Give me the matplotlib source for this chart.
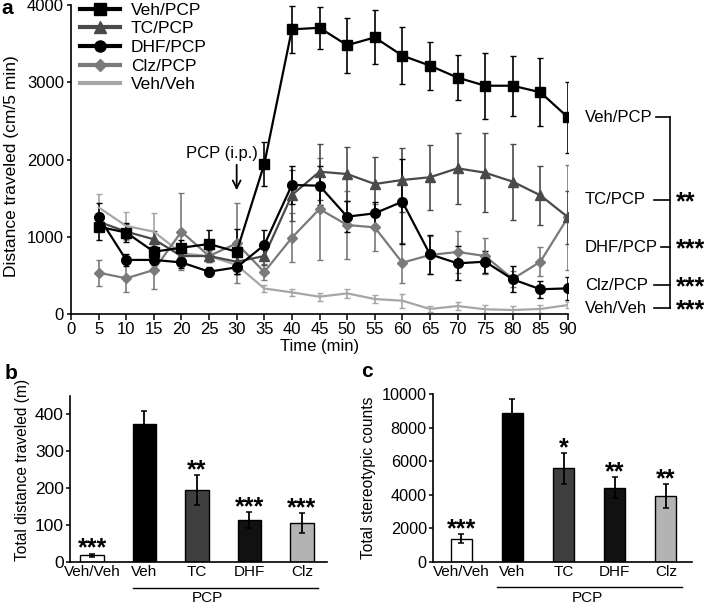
import matplotlib
matplotlib.use("Agg")
import matplotlib.pyplot as plt
from matplotlib.lines import Line2D
import numpy as np

plt.rcParams['font.family'] = ['Liberation Sans', 'DejaVu Sans']

# ---------------- data: panel a ----------------
times = [5, 10, 15, 20, 25, 30, 35, 40, 45, 50, 55, 60, 65, 70, 75, 80, 85, 90]
veh_pcp = [1130, 1055, 806, 858, 906, 806, 1942, 3685, 3705, 3480, 3580, 3345, 3215, 3060, 2955, 2955, 2870, 2545]
veh_pcp_err = [170, 120, 80, 100, 180, 290, 280, 300, 270, 355, 350, 370, 310, 295, 430, 390, 440, 455]
tc_pcp = [1195, 1066, 967, 750, 750, 677, 750, 1540, 1842, 1812, 1683, 1735, 1770, 1886, 1829, 1713, 1536, 1252]
tc_pcp_err = [110, 100, 110, 90, 80, 100, 110, 330, 360, 355, 350, 420, 420, 460, 510, 490, 380, 340]
dhf_pcp = [1260, 700, 700, 668, 548, 604, 893, 1670, 1661, 1260, 1303, 1454, 773, 656, 677, 449, 320, 332]
dhf_pcp_err = [180, 80, 70, 70, 60, 80, 190, 240, 250, 200, 150, 550, 250, 220, 140, 170, 110, 150]
clz_pcp = [535, 462, 570, 1066, 750, 915, 543, 988, 1359, 1152, 1122, 664, 764, 803, 751, 453, 677, 1252]
clz_pcp_err = [170, 180, 240, 500, 80, 520, 100, 320, 660, 445, 300, 260, 240, 270, 230, 100, 190, 680]
veh_veh = [1380, 1140, 1066, 785, 750, 634, 330, 280, 224, 267, 194, 172, 65, 103, 61, 52, 65, 116]
veh_veh_err = [170, 180, 240, 60, 60, 120, 50, 50, 50, 60, 50, 90, 40, 50, 50, 50, 50, 40]

right_labels = ['Veh/PCP', 'TC/PCP', 'DHF/PCP', 'Clz/PCP', 'Veh/Veh']
right_label_y = [2546, 1476, 863, 375, 74]
right_stars = ['', '**', '***', '***', '***']

# ---------------- data: panels b, c ----------------
bar_labels = ['Veh/Veh', 'Veh', 'TC', 'DHF', 'Clz']
dist_vals = [18, 373, 195, 114, 106]
dist_err = [5, 35, 41, 22, 27]
dist_stars = ['***', '', '**', '***', '***']
stereo_vals = [1390, 8850, 5570, 4430, 3940]
stereo_err = [260, 850, 900, 640, 700]
stereo_stars = ['***', '', '*', '**', '**']
bar_colors = ['white', 'black', '#3f3f3f', '#111111', '#b3b3b3']

W, H = 708, 608
fig = plt.figure(figsize=(W / 100, H / 100), dpi=100)


def rect(l, t, r, b):
    return [l / W, 1 - b / H, (r - l) / W, (b - t) / H]


STAR_FONT = dict(family='Liberation Sans', fontweight='bold', fontsize=18)

# ---------------- panel a ----------------
ax = fig.add_axes(rect(71, 5, 568, 314))
series = [
    ('Veh/Veh', veh_veh, veh_veh_err, '#a6a6a6', None, 0),
    ('Clz/PCP', clz_pcp, clz_pcp_err, '#7a7a7a', 'D', 5.5),
    ('TC/PCP', tc_pcp, tc_pcp_err, '#4a4a4a', '^', 7),
    ('DHF/PCP', dhf_pcp, dhf_pcp_err, 'black', 'o', 7),
    ('Veh/PCP', veh_pcp, veh_pcp_err, 'black', 's', 6.5),
]
for name, vals, err, col, mk, ms in series:
    ax.errorbar(times, vals, yerr=err, fmt='none', ecolor=col, elinewidth=1.2,
                capsize=2.2, capthick=1.0, zorder=2)
    ax.plot(times, vals, color=col, lw=1.6, marker=mk, ms=ms, zorder=3)

ax.set_xlim(0, 90)
ax.set_ylim(0, 4000)
ax.set_xticks(range(0, 95, 5))
ax.set_yticks([0, 1000, 2000, 3000, 4000])
ax.tick_params(axis='x', labelsize=12, length=4, width=1.1, direction='out', pad=2)
ax.tick_params(axis='y', labelsize=12, length=3, width=1.1, direction='out', pad=2)
for s in ['top', 'right']:
    ax.spines[s].set_visible(False)
for s in ['left', 'bottom']:
    ax.spines[s].set_linewidth(1.2)
ax.set_xlabel('Time (min)', fontsize=12, labelpad=1)
ax.set_ylabel('Distance traveled (cm/5 min)', fontsize=12.5)
ax.yaxis.set_label_coords(19 / W, 1 - 166 / H, transform=fig.transFigure)

handles = [
    Line2D([], [], color='black', lw=3, marker='s', ms=8),
    Line2D([], [], color='#4a4a4a', lw=3, marker='^', ms=8),
    Line2D([], [], color='black', lw=3, marker='o', ms=8),
    Line2D([], [], color='#7a7a7a', lw=3, marker='D', ms=6.5),
    Line2D([], [], color='#a6a6a6', lw=3),
]
ax.legend(handles, ['Veh/PCP', 'TC/PCP', 'DHF/PCP', 'Clz/PCP', 'Veh/Veh'],
          loc='upper left', bbox_to_anchor=(0.005, 1.03), frameon=False, fontsize=12.5,
          handlelength=2.3, handletextpad=0.6, labelspacing=0.2, borderaxespad=0)

ax.annotate('', xy=(30, 1566), xytext=(30, 1968),
            arrowprops=dict(arrowstyle='->', lw=1.3, color='black', mutation_scale=14))
ax.text(27.3, 2084, 'PCP (i.p.)', fontsize=12, ha='center', va='center')

# right side labels and bracket
x_txt, x_br = 93.1, 108.5
x_line_start = [106.0, 105.5, 106.8, 105.5, 105.6]
for lab, yv, st, xs in zip(right_labels, right_label_y, right_stars, x_line_start):
    ax.text(x_txt, yv, lab, fontsize=12, ha='left', va='center', clip_on=False)
    ax.plot([xs, x_br], [yv, yv], color='black', lw=1.2, clip_on=False)
    if st:
        ax.annotate(st, xy=(x_br + 1.0, yv), xytext=(0, -6.5), textcoords='offset points',
                    ha='left', va='baseline', annotation_clip=False, **STAR_FONT)
ax.plot([x_br, x_br], [right_label_y[0], right_label_y[-1]], color='black', lw=1.2,
        clip_on=False)

fig.text(1 / W, 1 - 14 / H, 'a', fontsize=15, fontweight='bold', ha='left', va='baseline')


# ---------------- bar panels ----------------
def bar_panel(r, vals, err, stars, ylim, yticks, ylabel, ylabel_xy, ytick_size,
              xlim, width, line_px, pcp_px):
    bx = fig.add_axes(rect(*r))
    pos = np.arange(len(vals))
    bx.bar(pos, vals, width=width, color=bar_colors, edgecolor='black', linewidth=1.0,
           zorder=2)
    bx.errorbar(pos, vals, yerr=err, fmt='none', ecolor='black', elinewidth=1.3,
                capsize=2.5, capthick=1.1, zorder=3)
    for p, v, e, st in zip(pos, vals, err, stars):
        if st:
            bx.annotate(st, xy=(p, v + e), xytext=(0, -1.5), textcoords='offset points',
                        ha='center', va='baseline', **STAR_FONT)
    bx.set_xlim(*xlim)
    bx.set_ylim(*ylim)
    bx.set_yticks(yticks)
    bx.set_xticks(pos)
    bx.set_xticklabels(bar_labels)
    bx.tick_params(axis='x', length=0, labelsize=11, pad=2)
    bx.tick_params(axis='y', labelsize=ytick_size, length=3, width=1.1, pad=1.5)
    for s in ['top', 'right']:
        bx.spines[s].set_visible(False)
    for s in ['left', 'bottom']:
        bx.spines[s].set_linewidth(1.2)
    bx.set_ylabel(ylabel, fontsize=11.2)
    bx.yaxis.set_label_coords(ylabel_xy[0] / W, 1 - ylabel_xy[1] / H,
                              transform=fig.transFigure)
    # PCP underline and label (figure pixel coordinates)
    x0, x1, yl = line_px
    fig.add_artist(Line2D([x0 / W, x1 / W], [1 - yl / H, 1 - yl / H], color='black',
                          lw=1.0))
    fig.text(pcp_px[0] / W, 1 - pcp_px[1] / H, 'PCP', fontsize=11, ha='center',
             va='center')
    return bx


bar_panel((70, 396, 327, 562), dist_vals, dist_err, dist_stars, (0, 450),
          [0, 100, 200, 300, 400], 'Total distance traveled (m)', (30, 470), 12.5,
          (-0.42, 4.48), 0.45, (133, 318, 588), (207, 598))
bar_panel((433, 394, 692, 562), stereo_vals, stereo_err, stereo_stars, (0, 10000),
          [0, 2000, 4000, 6000, 8000, 10000], 'Total stereotypic counts', (376, 478), 11.7,
          (-0.55, 4.51), 0.41, (497, 682, 587), (587, 598))

fig.text(5 / W, 1 - 379 / H, 'b', fontsize=15, fontweight='bold', ha='left', va='baseline')
fig.text(361 / W, 1 - 377 / H, 'c', fontsize=15, fontweight='bold', ha='left', va='baseline')

fig.savefig('out.png', dpi=100)
